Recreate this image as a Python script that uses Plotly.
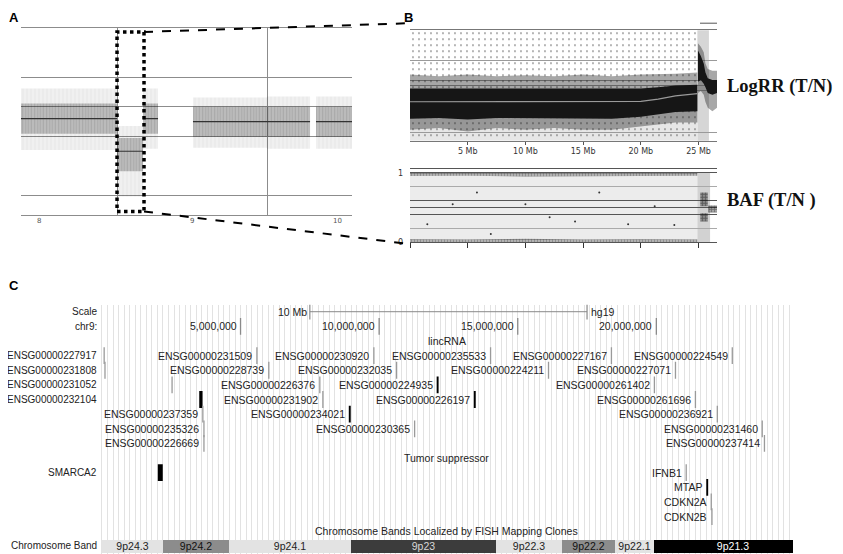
import plotly.graph_objects as go

# the page body keeps its 8px default margin; the photo comes out slightly squeezed vertically
OFF = 8
SQ = 554 / 562
W, H = 843 - 2 * OFF, 552

# ---------------- panel A : LogRR overview around chr9 (x = Mb from chr9 start) ----------------
a_chrom_labels = ["8", "9", "10"]
a_chrom_label_pos = [-73.0, 70.6, 208.0]
a_chrom_bounds = [0.0, 141.2]
a_grid = [-1.22, -0.25, 0.25, 0.73]
a_seg_start = [-90.4, 0.0, 24.5, 71.5, 141.2, 187.3]
a_seg_end = [0.0, 24.5, 38.6, 141.2, 181.7, 221.2]
a_seg_mean = [0.05, -0.49, 0.05, 0.0, 0.0, 0.0]
a_core_up = [0.25, 0.22, 0.25, 0.25, 0.25, 0.25]
a_core_dn = [0.25, 0.33, 0.25, 0.25, 0.25, 0.25]
a_halo_up = [0.50, 0.42, 0.50, 0.40, 0.42, 0.42]
a_halo_dn = [0.52, 0.75, 0.50, 0.43, 0.45, 0.45]
zoom_region = [0.0, 25.4]

# ---------------- panel B : LogRR and BAF for 9p (x = Mb) ----------------
b_pos = [0.0, 2.5, 5.0, 7.5, 10.0, 12.5, 15.0, 17.5, 20.0, 21.5, 23.0, 24.9]
b_median = [-0.44, -0.44, -0.44, -0.44, -0.44, -0.44, -0.44, -0.44, -0.43, -0.37, -0.28, -0.22]
b_core_hi = [-0.08, -0.08, -0.10, -0.08, -0.08, -0.10, -0.08, -0.08, -0.08, -0.05, 0.0, 0.02]
b_core_lo = [-0.90, -0.88, -0.92, -0.88, -0.90, -0.88, -0.90, -0.90, -0.85, -0.78, -0.72, -0.70]
b_mid_hi = [0.30, 0.25, 0.30, 0.25, 0.28, 0.25, 0.30, 0.25, 0.30, 0.30, 0.32, 0.35]
b_mid_lo = [-1.20, -1.15, -1.25, -1.15, -1.20, -1.15, -1.20, -1.20, -1.10, -1.05, -1.00, -1.00]
b_sparse_lim = [-1.45, 1.45]
r_pos = [24.95, 25.2, 25.45, 25.6, 25.8, 26.2, 26.6]
r_core_hi = [0.95, 0.80, 0.60, 0.35, 0.20, 0.15, 0.15]
r_core_lo = [0.10, 0.15, 0.05, -0.05, -0.20, -0.25, -0.20]
r_mid_hi = [1.15, 1.05, 0.90, 0.60, 0.45, 0.40, 0.40]
r_mid_lo = [-0.20, -0.15, -0.25, -0.45, -0.60, -0.70, -0.60]
logrr_grid = [-1.28, -0.136, 0.0, 0.136, 0.68]
mb_ticks = [5, 10, 15, 20, 25]
mb_ticktext = ["5 Mb", "10 Mb", "15 Mb", "20 Mb", "25 Mb"]
aberrant_region = [24.9, 25.9]
normal_region = [0.0, 24.9]

baf_pos = [0.0, 5.0, 10.0, 15.0, 20.0, 24.9]
baf_top_lo = [0.955, 0.960, 0.950, 0.960, 0.955, 0.960]
baf_bot_hi = [0.045, 0.040, 0.050, 0.040, 0.045, 0.040]
baf_cl_x = [[25.15, 25.8], [25.15, 25.8], [25.85, 26.6]]
baf_cl_lo = [0.52, 0.30, 0.43]
baf_cl_hi = [0.72, 0.42, 0.53]
baf_pts_x = [1.5, 3.7, 5.8, 7.0, 10.0, 12.1, 14.3, 16.4, 18.9, 21.2, 22.9]
baf_pts_y = [0.26, 0.55, 0.72, 0.12, 0.55, 0.36, 0.30, 0.72, 0.26, 0.52, 0.25]
baf_major = [0.0, 0.4, 0.5, 0.6, 1.0]
baf_minor = [0.2, 0.8]

# ---------------- panel C : UCSC style browser, chr9 (x = Mb) ----------------
band_names = ["9p24.3", "9p24.2", "9p24.1", "9p23", "9p22.3", "9p22.2", "9p22.1", "9p21.3"]
band_start = [0.0, 2.2, 4.6, 9.0, 14.2, 16.6, 18.5, 19.9]
band_end = [2.2, 4.6, 9.0, 14.2, 16.6, 18.5, 19.9, 25.6]
band_stain = ["gneg", "gpos50", "gneg", "gpos75", "gneg", "gpos50", "gneg", "gpos100"]

chr_ticks = [5, 10, 15, 20]
chr_ticktext = ["5,000,000", "10,000,000", "15,000,000", "20,000,000"]
scale_bar = [7.5, 17.5]

lnc_names = ["ENSG00000227917", "ENSG00000231509", "ENSG00000230920", "ENSG00000235533",
             "ENSG00000227167", "ENSG00000224549",
             "ENSG00000231808", "ENSG00000228739", "ENSG00000232035", "ENSG00000224211",
             "ENSG00000227071",
             "ENSG00000231052", "ENSG00000226376", "ENSG00000224935", "ENSG00000261402",
             "ENSG00000232104", "ENSG00000231902", "ENSG00000226197", "ENSG00000261696",
             "ENSG00000237359", "ENSG00000234021", "ENSG00000236921",
             "ENSG00000235326", "ENSG00000230365", "ENSG00000231460",
             "ENSG00000226669", "ENSG00000237414"]
lnc_pos = [0.08, 5.59, 9.81, 14.02, 18.38, 22.74,
           0.11, 6.02, 10.63, 16.11, 20.69,
           2.53, 7.86, 12.11, 19.93,
           3.57, 7.97, 13.45, 21.41,
           3.64, 8.94, 22.20,
           3.68, 11.28, 23.82,
           3.68, 23.90]
lnc_len = [0.02, 0.02, 0.02, 0.02, 0.02, 0.02,
           0.02, 0.02, 0.02, 0.02, 0.02,
           0.02, 0.02, 0.07, 0.02,
           0.12, 0.02, 0.07, 0.02,
           0.02, 0.07, 0.02,
           0.02, 0.02, 0.02,
           0.02, 0.02]
lnc_lane = [3, 3, 3, 3, 3, 3,
            4, 4, 4, 4, 4,
            5, 5, 5, 5,
            6, 6, 6, 6,
            7, 7, 7,
            8, 8, 8,
            9, 9]

ts_names = ["SMARCA2", "IFNB1", "MTAP", "CDKN2A", "CDKN2B"]
ts_start = [2.015, 21.077, 21.802, 21.967, 22.003]
ts_end = [2.194, 21.078, 21.870, 21.995, 22.009]
ts_lane = [11, 11, 12, 13, 14]

# labels that UCSC pushed into the left label column
margin_labelled = ["ENSG00000227917", "ENSG00000231808", "ENSG00000231052",
                   "ENSG00000232104", "SMARCA2"]

# ---------------------------------------------------------------------------
# picture pixel -> paper coordinate
def px(p):
    return (p - OFF) / W

def py(p):
    return 1 - (p / SQ - OFF) / H

def dom_x(a, b):
    return [px(a), px(b)]

def dom_y(top, bottom):
    return [py(bottom), py(top)]

ROW0, ROW_H = 310, 14.56      # panel C: picture y of row 0 and row pitch
A_X, A_Y = dom_x(21, 352), dom_y(28, 214)
B1_X, B1_Y = dom_x(410, 717), dom_y(30, 140)
B2_X, B2_Y = dom_x(410, 717), dom_y(168, 241)
C_X, C_Y = dom_x(100, 793), dom_y(303, 551)
A_RANGE_X, A_RANGE_Y = [-90.4, 221.2], [-1.55, 1.55]
B_RANGE_X = [0, 26.6]
C_RANGE_X = [-0.07, 24.93]
C_RANGE_Y = [(551 - ROW0) / ROW_H, (303 - ROW0) / ROW_H]
PX_PER_MB = (793 - 100) / (C_RANGE_X[1] - C_RANGE_X[0])

def to_paper(v, rng, dom):
    return dom[0] + (v - rng[0]) / (rng[1] - rng[0]) * (dom[1] - dom[0])

def band_poly(x, lo, hi):
    return list(x) + list(x)[::-1], list(hi) + list(lo)[::-1]

def seg_poly(starts, ends, mids, up, dn):
    xs, ys = [], []
    for s, e, m, u, d in zip(starts, ends, mids, up, dn):
        xs += [s, e, e, s, s, None]
        ys += [m + u, m + u, m - d, m - d, m + u, None]
    return xs, ys

def fill_trace(x, y, xa, ya, color, pattern=None):
    return go.Scatter(x=x, y=y, fill="toself", mode="lines", line=dict(width=0),
                      fillcolor=color, fillpattern=pattern, xaxis=xa, yaxis=ya,
                      hoverinfo="skip")

fig = go.Figure()

# ---- panel A
hx, hy = seg_poly(a_seg_start, a_seg_end, a_seg_mean, a_halo_up, a_halo_dn)
fig.add_trace(fill_trace(hx, hy, "x", "y", "rgba(0,0,0,0.06)",
                         dict(shape="|", size=4, solidity=0.25, fgcolor="rgba(0,0,0,0.08)")))
cx, cy = seg_poly(a_seg_start, a_seg_end, a_seg_mean, a_core_up, a_core_dn)
fig.add_trace(fill_trace(cx, cy, "x", "y", "rgba(0,0,0,0.22)",
                         dict(shape="|", size=3, solidity=0.3, fgcolor="rgba(0,0,0,0.15)")))
lx, ly = [], []
for s, e, m in zip(a_seg_start, a_seg_end, a_seg_mean):
    lx += [s, e, None]
    ly += [m, m, None]
fig.add_trace(go.Scatter(x=lx, y=ly, mode="lines", line=dict(color="#333", width=1.2),
                         xaxis="x", yaxis="y", hoverinfo="skip"))

# ---- panel B, LogRR
sx, sy = band_poly([b_pos[0], b_pos[-1]], [b_sparse_lim[0]] * 2, [b_sparse_lim[1]] * 2)
fig.add_trace(fill_trace(sx, sy, "x2", "y2", "rgba(0,0,0,0)",
                         dict(shape=".", size=6, solidity=0.08, fgcolor="#333")))
for pos, lo, hi in [(b_pos, b_mid_lo, b_mid_hi), (r_pos, r_mid_lo, r_mid_hi)]:
    bx, by = band_poly(pos, lo, hi)
    fig.add_trace(fill_trace(bx, by, "x2", "y2", "rgba(0,0,0,0.2)",
                             dict(shape=".", size=2, solidity=0.45, fgcolor="#111")))
for pos, lo, hi in [(b_pos, b_core_lo, b_core_hi), (r_pos, r_core_lo, r_core_hi)]:
    bx, by = band_poly(pos, lo, hi)
    fig.add_trace(fill_trace(bx, by, "x2", "y2", "#161616"))
fig.add_trace(go.Scatter(x=b_pos, y=b_median, mode="lines", line=dict(color="#9a9a9a", width=1.2),
                         xaxis="x2", yaxis="y2", hoverinfo="skip"))

# ---- panel B, BAF
for lo, hi in [(baf_top_lo, [1.0] * len(baf_pos)), ([0.0] * len(baf_pos), baf_bot_hi)]:
    bx, by = band_poly(baf_pos, lo, hi)
    fig.add_trace(fill_trace(bx, by, "x3", "y3", "rgba(0,0,0,0.12)",
                             dict(shape=".", size=3, solidity=0.6, fgcolor="#111")))
for xs, lo, hi in zip(baf_cl_x, baf_cl_lo, baf_cl_hi):
    bx, by = band_poly(xs, [lo, lo], [hi, hi])
    fig.add_trace(fill_trace(bx, by, "x3", "y3", "rgba(0,0,0,0.2)",
                             dict(shape=".", size=3, solidity=0.7, fgcolor="#111")))
fig.add_trace(go.Scatter(x=baf_pts_x, y=baf_pts_y, mode="markers",
                         marker=dict(color="#333", size=2), xaxis="x3", yaxis="y3", hoverinfo="skip"))

# ---- panel C : chromosome bands
stain_col = {"gneg": "#e3e3e3", "gpos50": "#8c8c8c", "gpos75": "#3c3c3c", "gpos100": "#000000"}
stain_txt = {"gneg": "#222", "gpos50": "#111", "gpos75": "#d8d8d8", "gpos100": "#ffffff"}
fig.add_trace(go.Bar(
    orientation="h", y=[16] * len(band_names), base=band_start,
    x=[e - s for s, e in zip(band_start, band_end)], width=0.9,
    marker=dict(color=[stain_col[s] for s in band_stain], line=dict(width=0)),
    text=band_names, textposition="inside", insidetextanchor="middle", constraintext="none",
    textangle=0, textfont=dict(size=10.5, color=[stain_txt[s] for s in band_stain],
                               family="Liberation Sans, Arial"),
    xaxis="x4", yaxis="y4", hoverinfo="skip"))

# scale bar + chr9 ticks
fig.add_trace(go.Scatter(x=scale_bar, y=[0, 0], mode="lines+markers",
                         line=dict(color="#8a8a8a", width=1),
                         marker=dict(symbol="line-ns", size=11, line=dict(color="#8a8a8a", width=1.2)),
                         xaxis="x4", yaxis="y4", hoverinfo="skip"))
fig.add_trace(go.Scatter(x=chr_ticks, y=[1] * len(chr_ticks), mode="markers",
                         marker=dict(symbol="line-ns", size=12, line=dict(color="#8a8a8a", width=1.3)),
                         xaxis="x4", yaxis="y4", hoverinfo="skip"))

# gene ticks
g_names = lnc_names + ts_names
g_center = lnc_pos + [(s + e) / 2 for s, e in zip(ts_start, ts_end)]
g_len = lnc_len + [e - s for s, e in zip(ts_start, ts_end)]
g_lane = lnc_lane + ts_lane
g_wpx = [max(1.3, l * PX_PER_MB) for l in g_len]
for c, l, lane, wpx in zip(g_center, g_len, g_lane, g_wpx):
    col = "#000" if l >= 0.05 else "#9a9a9a"
    fig.add_trace(go.Scatter(x=[c], y=[lane], mode="markers",
                             marker=dict(symbol="line-ns", size=12, line=dict(color=col, width=wpx)),
                             xaxis="x4", yaxis="y4", hoverinfo="skip"))

font_c = dict(family="Liberation Sans, Arial", size=10.5, color="#222")
font_m = dict(family="Liberation Sans, Arial", size=10, color="#222")
ann = []
for name, c, lane, wpx in zip(g_names, g_center, g_lane, g_wpx):
    if name in margin_labelled:
        ann.append(dict(x=px(99), xref="paper", y=lane, yref="y4", text=name,
                        xanchor="right", showarrow=False, font=font_m))
    else:
        ann.append(dict(x=c, xref="x4", y=lane, yref="y4", text=name, xanchor="right",
                        xshift=-(wpx / 2 + 2), showarrow=False, font=font_c))
for lab, row in [("Scale", 0), ("chr9:", 1), ("Chromosome Band", 16)]:
    ann.append(dict(x=px(99), xref="paper", y=row, yref="y4", text=lab,
                    xanchor="right", showarrow=False, font=font_m))
for v, t in zip(chr_ticks, chr_ticktext):
    ann.append(dict(x=v, xref="x4", y=1, yref="y4", text=t, xanchor="right", xshift=-2,
                    showarrow=False, font=font_c))
ann.append(dict(x=scale_bar[0], xref="x4", y=0, yref="y4", text="10 Mb", xanchor="right",
                xshift=-1, showarrow=False, font=font_c))
ann.append(dict(x=scale_bar[1], xref="x4", y=0, yref="y4", text="hg19", xanchor="left",
                xshift=2, showarrow=False, font=font_c))
mid_c = (C_RANGE_X[0] + C_RANGE_X[1]) / 2
for lab, row in [("lincRNA", 2), ("Tumor suppressor", 10),
                 ("Chromosome Bands Localized by FISH Mapping Clones", 15)]:
    ann.append(dict(x=mid_c, xref="x4", y=row, yref="y4", text=lab, xanchor="center",
                    showarrow=False, font=font_c))

# panel A chromosome labels
for lab, v in zip(a_chrom_labels, a_chrom_label_pos):
    ann.append(dict(x=v, xref="x", y=py(220), yref="paper", text=lab, showarrow=False,
                    font=dict(family="DejaVu Sans", size=7, color="#555")))

# panel letters and track titles
letter = dict(family="Liberation Sans, Arial", size=13, color="#000")
for t, x, y in [("<b>A</b>", 8, 9), ("<b>B</b>", 403, 9), ("<b>C</b>", 8, 275)]:
    ann.append(dict(x=px(x), y=py(y), xref="paper", yref="paper", text=t, xanchor="left",
                    yanchor="top", showarrow=False, font=letter, borderpad=0))
serif = dict(family="Liberation Serif, Times New Roman", size=18.5, color="#111")
ann.append(dict(x=px(725), y=py(86), xref="paper", yref="paper", text="<b>LogRR (T/N)</b>",
                xanchor="left", yanchor="middle", showarrow=False, font=serif))
ann.append(dict(x=px(725), y=py(199), xref="paper", yref="paper", text="<b>BAF (T/N )</b>",
                xanchor="left", yanchor="middle", showarrow=False, font=serif))

# ---- shapes: shading, zoom box, connectors
shapes = []
shapes.append(dict(type="rect", xref="x2", yref="y2", x0=normal_region[0], x1=normal_region[1],
                   y0=-1.5, y1=b_median[0], fillcolor="#e6e6e6", line=dict(width=0), layer="below"))
shapes.append(dict(type="rect", xref="x2", yref="y2 domain", x0=aberrant_region[0],
                   x1=aberrant_region[1], y0=0, y1=1, fillcolor="#d6d6d6", line=dict(width=0),
                   layer="below"))
shapes.append(dict(type="rect", xref="x3", yref="y3", x0=normal_region[0], x1=normal_region[1],
                   y0=0, y1=1, fillcolor="#ececec", line=dict(width=0), layer="below"))
shapes.append(dict(type="rect", xref="x3", yref="y3", x0=aberrant_region[0],
                   x1=aberrant_region[1] + 0.1, y0=0, y1=1, fillcolor="#d2d2d2",
                   line=dict(width=0), layer="below"))
shapes.append(dict(type="rect", xref="x", yref="y domain", x0=zoom_region[0], x1=zoom_region[1],
                   y0=0.02, y1=0.98, line=dict(color="#000", width=3.5, dash="dot")))
box_r = to_paper(zoom_region[1], A_RANGE_X, A_X)
box_t = A_Y[0] + 0.98 * (A_Y[1] - A_Y[0])
box_b = A_Y[0] + 0.02 * (A_Y[1] - A_Y[0])
shapes.append(dict(type="line", xref="paper", yref="paper", x0=box_r, y0=box_t,
                   x1=B1_X[0], y1=py(23), line=dict(color="#000", width=2, dash="dash")))
shapes.append(dict(type="line", xref="paper", yref="paper", x0=box_r, y0=box_b,
                   x1=px(404), y1=py(242), line=dict(color="#000", width=2, dash="dash")))
shapes.append(dict(type="line", xref="paper", yref="paper", x0=px(700), x1=px(717),
                   y0=py(23), y1=py(23), line=dict(color="#555", width=1)))

fig.update_layout(
    width=W, height=H, margin=dict(l=0, r=0, t=0, b=0),
    paper_bgcolor="white", plot_bgcolor="white", showlegend=False,
    annotations=ann, shapes=shapes, bargap=0,
    xaxis=dict(domain=A_X, range=A_RANGE_X, tickvals=a_chrom_bounds, ticktext=["", ""],
               showgrid=True, gridcolor="#8c8c8c", gridwidth=1, zeroline=False,
               showline=True, mirror=True, linecolor="#8c8c8c", ticks=""),
    yaxis=dict(domain=A_Y, range=A_RANGE_Y, tickvals=a_grid, showticklabels=False,
               showgrid=True, gridcolor="#8c8c8c", zeroline=False, showline=False, ticks=""),
    xaxis2=dict(domain=B1_X, range=B_RANGE_X, tickvals=mb_ticks, ticktext=mb_ticktext,
                ticks="outside", ticklen=3, tickcolor="#555", showgrid=False, zeroline=False,
                showline=True, mirror=True, linecolor="#777",
                tickfont=dict(family="DejaVu Sans", size=8, color="#333"), anchor="y2"),
    yaxis2=dict(domain=B1_Y, range=[-1.5, 1.5], tickvals=logrr_grid, showticklabels=False,
                showgrid=True, gridcolor="#9a9a9a", zeroline=False, showline=False, ticks="",
                anchor="x2", layer="above traces"),
    xaxis3=dict(domain=B2_X, range=B_RANGE_X, tickvals=[0] + mb_ticks, showticklabels=False,
                ticks="outside", ticklen=5, tickcolor="#333", showgrid=False, zeroline=False,
                showline=True, mirror=True, linecolor="#555", anchor="y3"),
    yaxis3=dict(domain=B2_Y, range=[0, 1.058], tickvals=baf_major,
                ticktext=["0", "", "", "", "1"], ticks="", showgrid=True, gridcolor="#555",
                minor=dict(tickvals=baf_minor, showgrid=True, gridcolor="#aaa"),
                zeroline=False, showline=False, anchor="x3", layer="above traces",
                ticklabelstandoff=6,
                tickfont=dict(family="DejaVu Sans", size=8, color="#333")),
    xaxis4=dict(domain=C_X, range=C_RANGE_X, tick0=0, dtick=0.2, showticklabels=False,
                showgrid=True, gridcolor="#e2e2e2", gridwidth=1, zeroline=False, ticks="",
                anchor="y4"),
    yaxis4=dict(domain=C_Y, range=C_RANGE_Y, showticklabels=False, showgrid=False,
                zeroline=False, ticks="", anchor="x4"),
)

fig.write_html("out.html")
